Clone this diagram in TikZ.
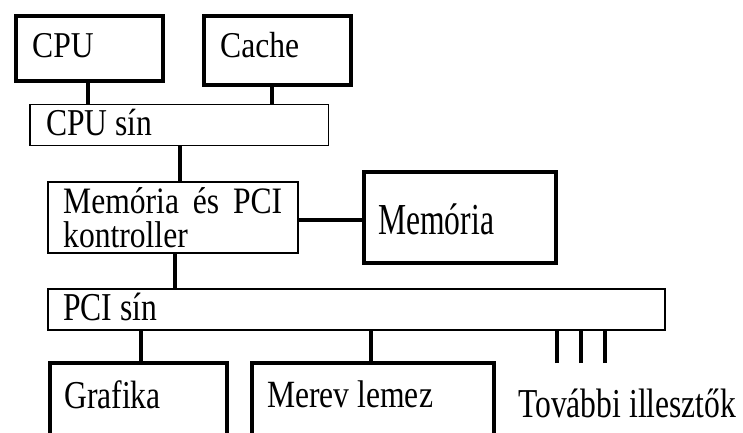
\documentclass[tikz,border=0pt]{standalone}
\usepackage{fontspec}
\usepackage{graphicx}
\setmainfont{Liberation Serif}
\tikzset{
  thickbox/.style={draw, line width=4pt, inner sep=0pt, fill=white},
  thinbox/.style={draw, line width=1.2pt, inner sep=0pt, fill=white},
  conn/.style={line width=4pt},
  stub/.style={line width=3.6pt},
  lbl/.style={anchor=base west, inner sep=0pt, font=\fontsize{31.6pt}{36pt}\selectfont},
}
% vertically stretched text: \vstretch{factor}{text}
\newcommand{\vstretch}[2]{\scalebox{1}[#1]{#2}}
\begin{document}
\begin{tikzpicture}[x=1pt, y=-1pt]
  \useasboundingbox (0,0) rectangle (743,432);
  \clip (0,0) rectangle (743,432);

  % boxes
  \node[thickbox, minimum width=147pt,   minimum height=65pt]   (cpu)    at (89.5,48)    {};
  \node[thickbox, minimum width=146.5pt, minimum height=69pt]   (cache)  at (277.25,50)  {};
  \node[thinbox,  minimum width=298.5pt, minimum height=41pt]   (cpusin) at (179.25,125) {};
  \node[thinbox,  minimum width=250pt,   minimum height=71pt]   (ctrl)   at (173,217.5)  {};
  \node[thickbox, minimum width=192pt,   minimum height=90.7pt] (mem)    at (460,217.4)  {};
  \node[thinbox,  minimum width=617pt,   minimum height=41pt]   (pcisin) at (356.5,309.5){};
  \node[thickbox, minimum width=177.5pt, minimum height=107pt]  (graf)   at (138.25,416.5){};
  \node[thickbox, minimum width=242.3pt, minimum height=107pt]  (merev)  at (372.85,416.5){};

  % free ends of the extra adapter stubs
  \coordinate (s1) at (557,363);
  \coordinate (s2) at (581,363);
  \coordinate (s3) at (605,363);

  % connectors
  \draw[conn] ([xshift=-2pt]cpu.south) -- ([xshift=-2pt]cpu.south |- cpusin.north);
  \draw[conn] ([xshift=-5.75pt]cache.south) -- ([xshift=-5.75pt]cache.south |- cpusin.north);
  \draw[conn] ([xshift=0.75pt]cpusin.south) -- ([xshift=0.75pt]cpusin.south |- ctrl.north);
  \draw[conn] ([yshift=-2.5pt]ctrl.east) -- ([yshift=-2.5pt]ctrl.east -| mem.west);
  \draw[conn] ([xshift=2pt]ctrl.south) -- ([xshift=2pt]ctrl.south |- pcisin.north);
  \draw[conn] ([xshift=2.75pt]graf.north) -- ([xshift=2.75pt]graf.north |- pcisin.south);
  \draw[conn] ([xshift=-1.85pt]merev.north) -- ([xshift=-1.85pt]merev.north |- pcisin.south);
  \draw[stub] (s1) -- (s1 |- pcisin.south);
  \draw[stub] (s2) -- (s2 |- pcisin.south);
  \draw[stub] (s3) -- (s3 |- pcisin.south);

  % labels
  \node[lbl] (tcpu)    at (32,57)    {\vstretch{1.15}{CPU}};
  \node[lbl] (tcache)  at (220,57)   {\vstretch{1.15}{Cache}};
  \node[lbl] (tcpusin) at (46,135)   {\vstretch{1.2}{CPU sín}};
  \node[lbl] (tctrl1)  at (63,213)   {\vstretch{1.18}{\makebox[219pt][s]{Memória\hfill és\hfill PCI}}};
  \node[lbl] (tctrl2)  at (63,247)   {\vstretch{1.18}{kontroller}};
  \node[lbl] (tmem)    at (378,234)  {\vstretch{1.4}{Memória}};
  \node[lbl] (tpci)    at (63,320.5) {\vstretch{1.25}{PCI sín}};
  \node[lbl] (tgraf)   at (64,408)   {\vstretch{1.25}{Grafika}};
  \node[lbl] (tmerev)  at (267,407)  {\vstretch{1.22}{Merev lemez}};
  \node[lbl] (tmore)   at (518,417)  {\vstretch{1.3}{További illesztők}};
\end{tikzpicture}
\end{document}
